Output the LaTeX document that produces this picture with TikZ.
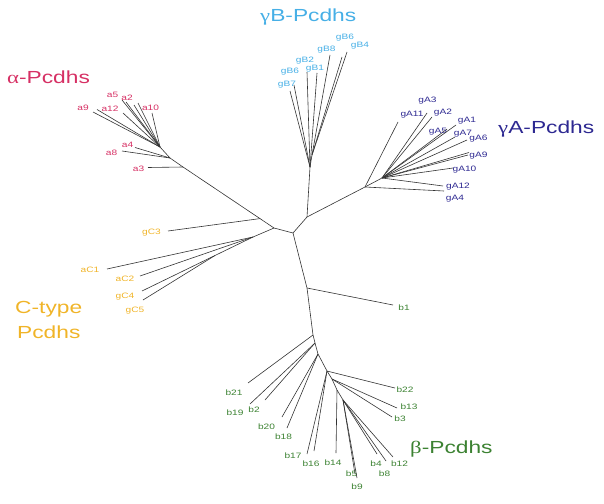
\documentclass[tikz,border=0pt]{standalone}
\usepackage{fontspec}
\setmainfont{Liberation Sans}[FakeStretch=1.3]
\newfontfamily\grk{Liberation Serif}[FakeStretch=1.3]
\definecolor{colAlpha}{RGB}{214,48,100}
\definecolor{colGB}{RGB}{70,175,230}
\definecolor{colGA}{RGB}{45,40,145}
\definecolor{colC}{RGB}{240,180,40}
\definecolor{colBeta}{RGB}{60,130,50}

\begin{document}
\begin{tikzpicture}[x=1pt, y=-1pt,
    branch/.style={black!80, line width=0.6pt},
    leaf/.style={font=\fontsize{7.8}{9}\selectfont, inner sep=0pt},
    family/.style={font=\fontsize{17.5}{21}\selectfont, inner sep=0pt, anchor=base west}]
    \useasboundingbox (0,0) rectangle (604,503);

    % inner nodes of the tree
    \coordinate (ctr) at (293,233);
    \coordinate (up) at (307,217);
    \coordinate (gBroot) at (310,167);
    \coordinate (gBsub) at (312,155);
    \coordinate (gAroot) at (365,187);
    \coordinate (gAfan) at (382,178);
    \coordinate (lft) at (274,228);
    \coordinate (gCjoin) at (260,218.6);
    \coordinate (aroot) at (183,167);
    \coordinate (amid) at (170,158);
    \coordinate (afan) at (160,147);
    \coordinate (Cfan) at (253,237);
    \coordinate (Csub) at (215,255.5);
    \coordinate (bstem) at (307,288);
    \coordinate (bA) at (313,335);
    \coordinate (bB) at (315,343);
    \coordinate (bC) at (318,354);
    \coordinate (bD) at (327,371);
    \coordinate (bE) at (332,379);
    \coordinate (bF) at (337,390);
    \coordinate (bG) at (343,400);

    \draw[branch] (ctr) -- (up) -- (gBroot) -- (gBsub);
    \draw[branch] (up) -- (gAroot) -- (gAfan);
    \draw[branch] (ctr) -- (lft) -- (gCjoin) -- (aroot) -- (amid) -- (afan);
    \draw[branch] (lft) -- (Cfan);
    \draw[branch] (ctr) -- (bstem) -- (bA) -- (bB) -- (bC) -- (bD) -- (bE) -- (bF) -- (bG);

    % alpha
    \foreach \n/\p/\tx/\ty/\lx/\ly in {a9/afan/93/112/83/108, a12/afan/97/109.5/110/109,
        a5/afan/122/100/112.5/94.5, a2/afan/126/102/127/98, a10/afan/152/113/150.5/108,
        a4/amid/135/147.5/127.5/145, a8/amid/122/151/111.5/153, a3/aroot/148/167.5/138.5/169}{
        \coordinate (\n-tip) at (\tx,\ty);
        \draw[branch] (\p) -- (\n-tip);
        \node[leaf, text=colAlpha] (\n) at (\lx,\ly) {\n};
    }
    \foreach \tx/\ty [count=\i] in {123/113, 134/105, 138/103}{
        \coordinate (aFree\i) at (\tx,\ty);
        \draw[branch] (afan) -- (aFree\i);
    }
    \node[family, text=colAlpha] (alphaT) at (7,83.5) {{\grk α}-Pcdhs};

    % gamma B
    \foreach \n/\p/\tx/\ty/\lx/\ly/\s in {gB7/gBroot/290/91/287/85/gB7, gB6a/gBroot/294/85/290/71.5/gB6,
        gB2/gBroot/307/72/305/61/gB2, gB1/gBroot/317/73/315/68.5/gB1,
        gB8/gBsub/330/55/326.5/50/gB8, gB6b/gBsub/342/57/345/38/gB6, gB4/gBsub/347/52/360/45.5/gB4}{
        \coordinate (\n-tip) at (\tx,\ty);
        \draw[branch] (\p) -- (\n-tip);
        \node[leaf, text=colGB] (\n) at (\lx,\ly) {\s};
    }
    \node[family, text=colGB] (gBT) at (260,21.5) {{\grk γ}B-Pcdhs};

    % gamma A
    \foreach \n/\p/\tx/\ty/\lx/\ly in {gA11/gAroot/398/122/412/115, gA3/gAfan/427/113/427.5/101,
        gA2/gAfan/432/117/443/112.5, gA5/gAfan/447/129/438/132, gA1/gAfan/456/125/467/121,
        gA7/gAfan/455/137/463/133.5, gA6/gAfan/467/140/478.5/138.5, gA9/gAfan/468/155/478.5/156,
        gA10/gAfan/453/168/464.5/170, gA12/gAfan/443/186/458/187, gA4/gAroot/444/191/455/198.5}{
        \coordinate (\n-tip) at (\tx,\ty);
        \draw[branch] (\p) -- (\n-tip);
        \node[leaf, text=colGA] (\n) at (\lx,\ly) {\n};
    }
    \coordinate (gAFree) at (469,152.5);
    \draw[branch] (gAfan) -- (gAFree);
    \node[family, text=colGA] (gAT) at (498,133.5) {{\grk γ}A-Pcdhs};

    % C-type
    \foreach \n/\p/\tx/\ty/\lx/\ly in {gC3/gCjoin/168/231/151.5/233, aC1/Cfan/107/269/90/270,
        aC2/Cfan/140/276/125/279, gC4/Cfan/142/291/125/297, gC5/Csub/143/300/135/311}{
        \coordinate (\n-tip) at (\tx,\ty);
        \draw[branch] (\p) -- (\n-tip);
        \node[leaf, text=colC] (\n) at (\lx,\ly) {\n};
    }
    \node[family, text=colC] (cT) at (15,313) {C-type};
    \node[family, text=colC] (cT2) at (17,338) {Pcdhs};

    % beta
    \foreach \n/\p/\tx/\ty/\lx/\ly in {b1/bstem/393/305/404/308, b21/bA/248/383/234/393,
        b19/bB/250/404/235/413, b2/bB/265/400/254/409.5, b20/bC/282/417/266.5/427,
        b18/bC/287/428/283.5/437, b22/bD/395/388/405/389.5, b17/bD/307/454/293/456,
        b16/bD/314/451/311/464, b13/bE/397/408/409/407, b3/bE/392/417/400/418.5,
        b14/bF/336/453/333/463, b5/bG/355/474/351.5/474, b9/bG/357/478/357/487,
        b4/bG/377/454/376/463.5, b8/bG/386/461/384.5/473.5, b12/bG/393/457/399.5/464}{
        \coordinate (\n-tip) at (\tx,\ty);
        \draw[branch] (\p) -- (\n-tip);
        \node[leaf, text=colBeta] (\n) at (\lx,\ly) {\n};
    }
    \node[family, text=colBeta] (bT) at (410,453.5) {{\grk β}-Pcdhs};
\end{tikzpicture}
\end{document}
